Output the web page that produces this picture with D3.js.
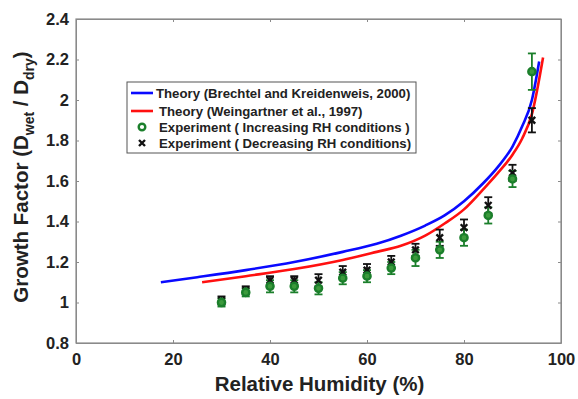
<!DOCTYPE html>
<html>
<head>
<meta charset="utf-8">
<script src="https://cdn.jsdelivr.net/npm/d3@7"></script>
<style>
body { margin: 0; background: #fff; }
text { font-family: "Liberation Sans", Arial, sans-serif; font-weight: bold; }
</style>
</head>
<body>
<script>
// theory curves
var blueRH = [17.5, 25, 35, 45, 55, 62, 67, 72, 76, 80, 84, 87, 90, 92, 94, 95.5];
var blueGF = [1.10, 1.125, 1.16, 1.20, 1.25, 1.29, 1.33, 1.38, 1.43, 1.50, 1.59, 1.67, 1.77, 1.87, 2.00, 2.19];
var redRH = [26, 35, 45, 55, 62, 67, 72, 76, 80, 84, 87, 90, 92, 94, 96.3];
var redGF = [1.10, 1.13, 1.165, 1.21, 1.25, 1.28, 1.33, 1.39, 1.46, 1.56, 1.64, 1.73, 1.81, 1.93, 2.21];

// experiments
var expRH = [30, 35, 40, 45, 50, 55, 60, 65, 70, 75, 80, 85, 90, 94];
var incGF = [1.00, 1.05, 1.08, 1.08, 1.07, 1.12, 1.13, 1.17, 1.22, 1.26, 1.32, 1.43, 1.61, 2.14];
var incErr = [0.02, 0.02, 0.03, 0.03, 0.03, 0.03, 0.03, 0.03, 0.04, 0.04, 0.04, 0.04, 0.04, 0.09];
var decGF = [1.01, 1.06, 1.11, 1.11, 1.11, 1.15, 1.16, 1.20, 1.26, 1.32, 1.37, 1.48, 1.64, 1.90];
var decErr = [0.02, 0.02, 0.02, 0.02, 0.03, 0.03, 0.03, 0.03, 0.03, 0.04, 0.04, 0.04, 0.04, 0.06];

var xTicks = [0, 20, 40, 60, 80, 100];
var yTicks = [0.8, 1, 1.2, 1.4, 1.6, 1.8, 2, 2.2, 2.4];
var legendLabels = [
  "Theory (Brechtel and Kreidenweis, 2000)",
  "Theory (Weingartner et al., 1997)",
  "Experiment ( Increasing RH conditions )",
  "Experiment ( Decreasing RH conditions)"
];

var w = 578, h = 399;
var mLeft = 76, mRight = 561, mTop = 19, mBottom = 343;
var green = "#1b7f2b";

var svg = d3.select("body").append("svg").attr("width", w).attr("height", h);

var x = d3.scaleLinear().domain([0, 100]).range([mLeft, mRight]);
var y = d3.scaleLinear().domain([0.8, 2.4]).range([mBottom, mTop]);

// box
svg.append("rect")
    .attr("x", mLeft).attr("y", mTop)
    .attr("width", mRight - mLeft).attr("height", mBottom - mTop)
    .attr("fill", "none").attr("stroke", "#8a8a8a").attr("stroke-width", 1.2);

svg.append("g").attr("transform", "translate(0," + mBottom + ")")
    .call(d3.axisBottom(x).tickValues(xTicks).tickSizeInner(-3).tickSizeOuter(0).tickPadding(10));
svg.append("g").attr("transform", "translate(" + mLeft + ",0)")
    .call(d3.axisLeft(y).tickValues(yTicks).tickFormat(d3.format("")).tickSizeInner(-3).tickSizeOuter(0).tickPadding(7));
svg.append("g").attr("transform", "translate(0," + mTop + ")")
    .call(d3.axisTop(x).tickValues(xTicks).tickSizeInner(-3).tickSizeOuter(0).tickFormat(""));
svg.append("g").attr("transform", "translate(" + mRight + ",0)")
    .call(d3.axisRight(y).tickValues(yTicks).tickSizeInner(-3).tickSizeOuter(0).tickFormat(""));

svg.selectAll(".domain").attr("stroke", "#8a8a8a");
svg.selectAll(".tick line").attr("stroke", "#8a8a8a");
svg.selectAll(".tick text").attr("font-size", "16.5px").attr("fill", "#222");

// theory lines
var line = d3.line().x(function (d) { return x(d[0]); }).y(function (d) { return y(d[1]); })
    .curve(d3.curveMonotoneX);
svg.append("path").datum(blueRH.map(function (v, i) { return [v, blueGF[i]]; }))
    .attr("d", line).attr("fill", "none").attr("stroke", "#0a0aff").attr("stroke-width", 2.6);
svg.append("path").datum(redRH.map(function (v, i) { return [v, redGF[i]]; }))
    .attr("d", line).attr("fill", "none").attr("stroke", "#ff1010").attr("stroke-width", 2.6);

// error bars
function errorBars(vals, errs, color) {
  var g = svg.append("g").attr("stroke", color).attr("stroke-width", 1.8);
  expRH.forEach(function (rh, i) {
    var cx = x(rh), y0 = y(vals[i] - errs[i]), y1 = y(vals[i] + errs[i]);
    g.append("line").attr("x1", cx).attr("x2", cx).attr("y1", y0).attr("y2", y1);
    g.append("line").attr("x1", cx - 4).attr("x2", cx + 4).attr("y1", y0).attr("y2", y0);
    g.append("line").attr("x1", cx - 4).attr("x2", cx + 4).attr("y1", y1).attr("y2", y1);
  });
}
errorBars(decGF, decErr, "#111");
errorBars(incGF, incErr, green);

function cross(g, cx, cy, s) {
  g.append("path").attr("d", "M" + (cx - s) + "," + (cy - s) + "L" + (cx + s) + "," + (cy + s) +
      "M" + (cx - s) + "," + (cy + s) + "L" + (cx + s) + "," + (cy - s))
    .attr("stroke", "#111").attr("stroke-width", 2.4);
}

var decG = svg.append("g");
expRH.forEach(function (rh, i) { cross(decG, x(rh), y(decGF[i]), 3.3); });
svg.append("g").selectAll("circle").data(expRH).enter().append("circle")
    .attr("cx", function (d) { return x(d); })
    .attr("cy", function (d, i) { return y(incGF[i]); })
    .attr("r", 3.6)
    .attr("fill", "#3c9a3c").attr("stroke", green).attr("stroke-width", 2.4);

// legend
var lg = svg.append("g");
lg.append("rect").attr("x", 127).attr("y", 82).attr("width", 289).attr("height", 71)
    .attr("fill", "#fff").attr("stroke", "#555").attr("stroke-width", 1);
var rowY = [93, 111, 127, 143];
lg.append("line").attr("x1", 131).attr("x2", 153).attr("y1", rowY[0]).attr("y2", rowY[0])
    .attr("stroke", "#0a0aff").attr("stroke-width", 2.6);
lg.append("line").attr("x1", 131).attr("x2", 153).attr("y1", rowY[1]).attr("y2", rowY[1])
    .attr("stroke", "#ff1010").attr("stroke-width", 2.6);
lg.append("circle").attr("cx", 142).attr("cy", rowY[2]).attr("r", 3.3)
    .attr("fill", "none").attr("stroke", green).attr("stroke-width", 2.4);
cross(lg, 142, rowY[3], 3);
lg.selectAll("text.lab").data(legendLabels).enter().append("text")
    .attr("class", "lab")
    .attr("x", function (d, i) { return i === 0 ? 156 : 159; })
    .attr("y", function (d, i) { return rowY[i] + 5; })
    .attr("font-size", "13.2px").attr("fill", "#222")
    .text(function (d) { return d; });

// axis titles
svg.append("text").attr("x", (mLeft + mRight) / 2 + 1).attr("y", 391)
    .attr("text-anchor", "middle").attr("font-size", "20.5px").attr("fill", "#222")
    .text("Relative Humidity (%)");

var yt = svg.append("text").attr("transform", "translate(28,177) rotate(-90)")
    .attr("text-anchor", "middle").attr("font-size", "20.5px").attr("fill", "#222");
yt.append("tspan").text("Growth Factor (D");
yt.append("tspan").attr("font-size", "14px").attr("dy", 6).text("wet");
yt.append("tspan").attr("dy", -6).text(" / D");
yt.append("tspan").attr("font-size", "14px").attr("dy", 6).text("dry");
yt.append("tspan").attr("dy", -6).text(")");
</script>
</body>
</html>
